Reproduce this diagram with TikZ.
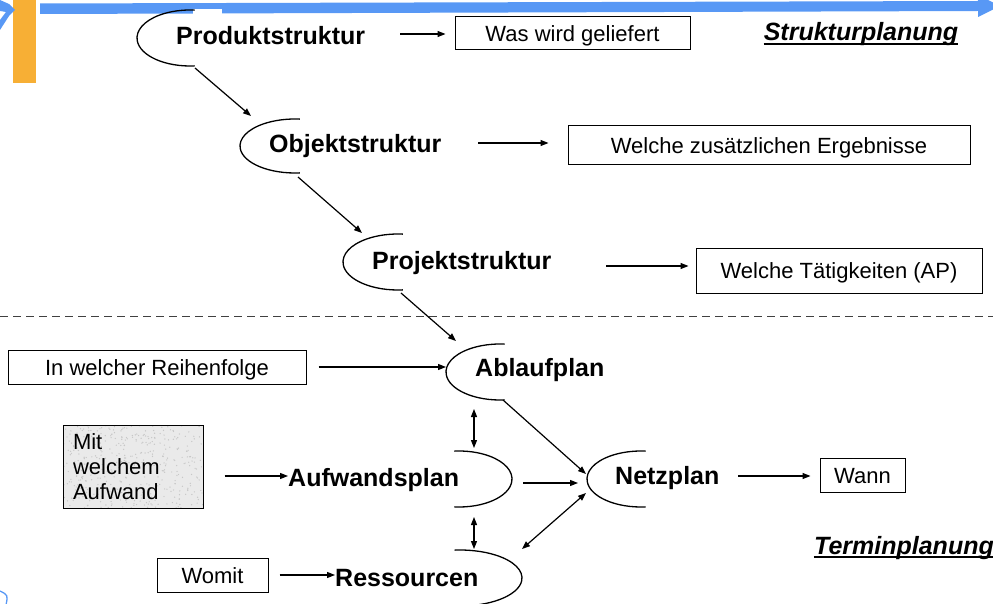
\documentclass[tikz,border=0pt]{standalone}
\usepackage{fontspec}
\setmainfont{Liberation Sans}
\usetikzlibrary{arrows.meta}

\definecolor{barblue}{RGB}{88,152,245}
\definecolor{barorange}{RGB}{247,175,53}
\definecolor{boxgray}{RGB}{234,234,234}

\begin{document}
\begin{tikzpicture}[x=1pt,y=-1pt,
  lbl/.style={font=\fontsize{25}{30}\selectfont\bfseries, inner sep=0pt, anchor=base west},
  phase/.style={font=\fontsize{25}{30}\selectfont\bfseries\itshape, inner sep=0pt, anchor=base},
  infobox/.style={draw, line width=1pt, font=\fontsize{22}{25}\selectfont,
    text height=16pt, text depth=0pt, inner sep=0pt},
  tip/.tip={Triangle[length=8pt,width=6pt]},
  conn/.style={line width=1.2pt, -tip},
  both/.style={line width=1.2pt, tip-tip},
  halfring/.style={line width=1.3pt}
]
\useasboundingbox (0,0) rectangle (993,604);

% header bars
\fill[barorange] (13,0) rectangle (36,83);
\fill[barblue] (40,3.5) -- (978,1) -- (978,-5) -- (1000,6) -- (978,17) -- (978,11) -- (40,14) -- cycle;
\fill[white] (193,9) rectangle (222,15);
\fill[barblue] (0,0) -- (9,4) -- (15,10) -- (9,16) -- (0,30) -- (0,20) -- (6,12) -- (0,11) -- cycle;
\draw[barblue, line width=1.3pt] (0,591) .. controls (8,595) .. (6,605);

% separator between the two planning phases
\draw[dash pattern=on 8pt off 5pt, line width=1pt, black!75] (0,316) -- (993,316);

% phase titles
\node[phase] (sp) at (861,41) {Strukturplanung};
\draw[line width=1.6pt] ([yshift=-3pt]sp.base west) -- ([yshift=-3pt]sp.base east);
\node[phase] (tp) at (904,554) {Terminplanung};
\draw[line width=1.6pt] ([yshift=-3pt]tp.base west) -- ([yshift=-3pt]tp.base east);

% half rings around the planning steps
\draw[halfring] (190,38) ++(85:53 and 28) arc[start angle=85, end angle=275, x radius=53, y radius=28];
\draw[halfring] (295,146) ++(85:55 and 27) arc[start angle=85, end angle=275, x radius=55, y radius=27];
\draw[halfring] (398,262) ++(85:55 and 28) arc[start angle=85, end angle=275, x radius=55, y radius=28];
\draw[halfring] (500,372) ++(85:54 and 28) arc[start angle=85, end angle=275, x radius=54, y radius=28];
\draw[halfring] (641,479) ++(85:54 and 28) arc[start angle=85, end angle=275, x radius=54, y radius=28];
\draw[halfring] (459,479) ++(95:53 and 28) arc[start angle=95, end angle=-95, x radius=53, y radius=28];
\draw[halfring] (460,578) ++(95:62 and 28) arc[start angle=95, end angle=-95, x radius=62, y radius=28];

% step labels
\node[lbl] (prod) at (176,45) {Produktstruktur};
\node[lbl] (obj) at (269,153) {Objektstruktur};
\node[lbl] (proj) at (372,269) {Projektstruktur};
\node[lbl] (abl) at (475,376) {Ablaufplan};
\node[lbl] (aufw) at (288,486) {Aufwandsplan};
\node[lbl] (netz) at (615,484) {Netzplan};
\node[lbl] (ress) at (335,586) {Ressourcen};

% question boxes
\node[infobox, minimum width=235pt, minimum height=33pt] (was) at (572.5,33.5) {Was wird geliefert};
\node[infobox, minimum width=402pt, minimum height=39pt] (erg) at (769,145.5) {Welche zusätzlichen Ergebnisse};
\node[infobox, minimum width=286pt, minimum height=45pt] (tae) at (839,270.5) {Welche Tätigkeiten (AP)};
\node[infobox, minimum width=298pt, minimum height=34pt] (reih) at (157,367) {In welcher Reihenfolge};
\node[infobox, minimum width=85pt, minimum height=34pt] (wann) at (862.5,475) {Wann};
\node[infobox, minimum width=111pt, minimum height=34pt] (womit) at (212.5,575) {Womit};

% speckled box for the effort question
\fill[boxgray] (63,425) rectangle (203,508);
\begin{scope}
  \clip (63,425) rectangle (203,508);
  \pgfmathsetseed{7}
  \foreach \i in {1,...,420} {
    \pgfmathsetmacro{\px}{63+140*rnd}
    \pgfmathsetmacro{\py}{425+83*rnd}
    \fill[black!22] (\px,\py) circle (0.7pt);
  }
\end{scope}
\node[draw, line width=1pt, minimum width=140pt, minimum height=83pt, inner xsep=10pt,
  text width=120pt, align=left, font=\fontsize{22}{25}\selectfont] (mit) at (133,466.5)
  {Mit\\welchem\\Aufwand};

% connector end points on the rings
\coordinate (prodOut) at (195,68);
\coordinate (objIn) at (251,116);
\coordinate (objOut) at (298,177);
\coordinate (projIn) at (362,233);
\coordinate (projOut) at (401,293);
\coordinate (ablIn) at (456,341);
\coordinate (ablLeft) at (446,367);
\coordinate (ablOut) at (503,400);
\coordinate (netzIn) at (586,474);
\coordinate (ablBot) at (474,409);
\coordinate (aufwTop) at (474,448);
\coordinate (aufwBot) at (474,517);
\coordinate (ressTop) at (474,549);
\coordinate (aufwOut) at (523,483);
\coordinate (netzLeft) at (578,483);
\coordinate (netzLow) at (586,493);
\coordinate (ressIn) at (522,549);

% arrows from the steps to their questions
\draw[conn] (400,34) -- ([xshift=-9pt]was.west |- 0,34);
\draw[conn] (478,143) -- ([xshift=-19pt]erg.west |- 0,143);
\draw[conn] (606,266) -- ([xshift=-7pt]tae.west |- 0,266);
\draw[conn] (738,476) -- ([xshift=-9pt]wann.west |- 0,476);

% arrows from the questions into the steps
\draw[conn] ([xshift=12pt]reih.east) -- (ablLeft);
\draw[conn] ([xshift=21pt]mit.east |- 0,476) -- (aufw.west |- 0,476);
\draw[conn] ([xshift=11pt]womit.east) -- (ress.west |- 0,575);

% flow between the steps
\draw[conn] (prodOut) -- (objIn);
\draw[conn] (objOut) -- (projIn);
\draw[conn] (projOut) -- (ablIn);
\draw[conn] (ablOut) -- (netzIn);
\draw[conn] (aufwOut) -- (netzLeft);
\draw[both] (ablBot) -- (aufwTop);
\draw[both] (aufwBot) -- (ressTop);
\draw[both] (netzLow) -- (ressIn);
\end{tikzpicture}
\end{document}
